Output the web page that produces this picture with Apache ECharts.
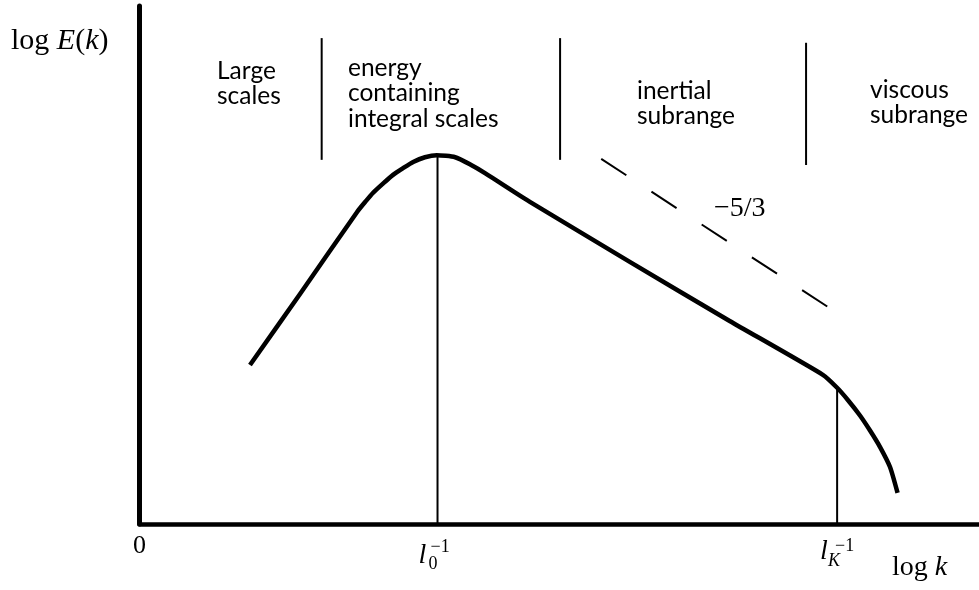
<!DOCTYPE html>
<html>
<head>
<meta charset="utf-8">
<script src="https://cdn.jsdelivr.net/npm/echarts@6/dist/echarts.min.js"></script>
<style>
  html, body { margin: 0; padding: 0; background: #fff; }
  #chart { width: 979px; height: 590px; }
</style>
</head>
<body>
<div id="chart"></div>
<script>
// Schematic turbulent energy spectrum, log E(k) against log k (arbitrary units 0..100).
const spectrumK = [13.16, 19.12, 25.9, 26.9, 27.8, 29.0, 30.2, 31.4, 32.6, 34.0, 35.4, 37.6, 39.4, 41.2, 46.5, 58.4, 70.3, 81.4, 83.1, 84.4, 85.8, 87.0, 88.2, 89.4, 90.3];
const spectrumE = [30.7, 44.4, 60.2, 62.2, 63.9, 65.7, 67.4, 68.7, 69.9, 70.8, 71.2, 70.8, 69.4, 67.7, 62.2, 50.6, 39.2, 28.8, 26.3, 23.9, 21.0, 18.1, 14.9, 11.0, 6.0];

// Characteristic wavenumbers: integral scale l0^-1 and Kolmogorov scale lK^-1
const l0Inv = 35.5;
const lKInv = 83.1;
const l0Energy = 71.2;
const lKEnergy = 26.3;

// Range separators (k position, lower and upper E)
const dividerK = [21.7, 50.1, 79.4];
const dividerLow = [70.3, 70.3, 69.3];
const dividerHigh = [93.8, 93.8, 92.9];

// -5/3 reference slope (start and end points)
const slopeK = [55.0, 82.0];
const slopeE = [70.5, 41.9];

// Tick labels on the k axis
const tickValues = [0, l0Inv, lKInv];
const tickBase = ['0', 'l', 'l'];
const tickSub = ['', '0', 'K'];
const tickSup = ['', '\u22121', '\u22121'];

const BLACK = '#000';
const SERIF = '"Liberation Serif", "Times New Roman", serif';
const SANS = 'Lato, "Open Sans", sans-serif';

const chart = echarts.init(document.getElementById('chart'), null, { renderer: 'canvas' });

const spectrumData = spectrumK.map((k, i) => [k, spectrumE[i]]);

// Segment list: [k1, e1, k2, e2, width, dashed]
const segments = [
  [l0Inv, 0, l0Inv, l0Energy, 2, 0],
  [lKInv, 0, lKInv, lKEnergy, 2, 0]
];
dividerK.forEach((k, i) => segments.push([k, dividerLow[i], k, dividerHigh[i], 2, 0]));
segments.push([slopeK[0], slopeE[0], slopeK[1], slopeE[1], 2, 1]);

// Per-label glyph offsets relative to the tick position on the axis
const tickLayout = [
  { base: [0, 22, 'center', false, 26] },
  { base: [-19, 32, 'left', true, 28], sup: [-7, 23, 18], sub: [-9, 40, 18] },
  { base: [-17, 28, 'left', true, 28], sup: [-2, 22, 18], sub: [-9, 37, 18] }
];

const option = {
  backgroundColor: '#fff',
  animation: false,
  grid: { left: 139.5, right: 0, top: 6, bottom: 66 },
  xAxis: {
    type: 'value', min: 0, max: 100,
    axisLine: { show: true, onZero: false, lineStyle: { color: BLACK, width: 4.5 } },
    axisTick: { show: false }, axisLabel: { show: false }, splitLine: { show: false }
  },
  yAxis: {
    type: 'value', min: 0, max: 100,
    axisLine: { show: true, lineStyle: { color: BLACK, width: 5 } },
    axisTick: { show: false }, axisLabel: { show: false }, splitLine: { show: false }
  },
  series: [
    {
      type: 'line',
      data: spectrumData,
      smooth: 0.2,
      symbol: 'none',
      lineStyle: { color: BLACK, width: 4.5, cap: 'butt', join: 'round' },
      z: 5
    },
    {
      type: 'custom',
      data: segments,
      renderItem: function (params, api) {
        const p1 = api.coord([api.value(0), api.value(1)]);
        const p2 = api.coord([api.value(2), api.value(3)]);
        return {
          type: 'line',
          shape: { x1: p1[0], y1: p1[1], x2: p2[0], y2: p2[1] },
          style: {
            stroke: BLACK,
            lineWidth: api.value(4),
            lineDash: api.value(5) ? [30, 30] : null,
            lineCap: 'butt'
          }
        };
      },
      z: 4
    },
    {
      type: 'custom',
      data: tickValues.map((v, i) => [v, i]),
      renderItem: function (params, api) {
        const i = api.value(1);
        const p = api.coord([api.value(0), 0]);
        const lay = tickLayout[i];
        const children = [{
          type: 'text',
          style: {
            x: p[0] + lay.base[0], y: p[1] + lay.base[1],
            text: tickBase[i], align: lay.base[2], verticalAlign: 'middle',
            font: (lay.base[3] ? 'italic ' : '') + lay.base[4] + 'px ' + SERIF,
            fill: BLACK
          }
        }];
        if (tickSup[i]) {
          children.push({
            type: 'text',
            style: {
              x: p[0] + lay.sup[0], y: p[1] + lay.sup[1], text: tickSup[i],
              align: 'left', verticalAlign: 'middle',
              font: lay.sup[2] + 'px ' + SERIF, fill: BLACK
            }
          });
        }
        if (tickSub[i]) {
          children.push({
            type: 'text',
            style: {
              x: p[0] + lay.sub[0], y: p[1] + lay.sub[1], text: tickSub[i],
              align: 'left', verticalAlign: 'middle',
              font: (tickSub[i] === 'K' ? 'italic ' : '') + lay.sub[2] + 'px ' + SERIF, fill: BLACK
            }
          });
        }
        return { type: 'group', children: children };
      },
      z: 6
    }
  ],
  graphic: [
    {
      type: 'text', left: 11, top: 26,
      style: {
        text: '{n|log }{i|E}{n|(}{i|k}{n|)}',
        rich: {
          n: { fontFamily: SERIF, fontSize: 30, fill: BLACK },
          i: { fontFamily: SERIF, fontSize: 30, fontStyle: 'italic', fill: BLACK }
        }
      }
    },
    {
      type: 'text', left: 892, top: 554,
      style: {
        text: '{n|log }{i|k}',
        rich: {
          n: { fontFamily: SERIF, fontSize: 28, fill: BLACK },
          i: { fontFamily: SERIF, fontSize: 28, fontStyle: 'italic', fill: BLACK }
        }
      }
    },
    {
      type: 'text', left: 714, top: 195,
      style: { text: '\u22125/3', font: '28px "Liberation Serif", serif', fill: BLACK }
    },
    {
      type: 'text', left: 217, top: 58,
      style: { text: 'Large\nscales', fontFamily: SANS, fontSize: 24.5, lineHeight: 25.5, fill: BLACK }
    },
    {
      type: 'text', left: 348, top: 55,
      style: { text: 'energy\ncontaining\nintegral scales', fontFamily: SANS, fontSize: 24.5, lineHeight: 25.5, fill: BLACK }
    },
    {
      type: 'text', left: 637, top: 78,
      style: { text: 'inertial\nsubrange', fontFamily: SANS, fontSize: 24.5, lineHeight: 25.5, fill: BLACK }
    },
    {
      type: 'text', left: 870, top: 77,
      style: { text: 'viscous\nsubrange', fontFamily: SANS, fontSize: 24.5, lineHeight: 25.5, fill: BLACK }
    }
  ]
};

chart.setOption(option);
</script>
</body>
</html>
